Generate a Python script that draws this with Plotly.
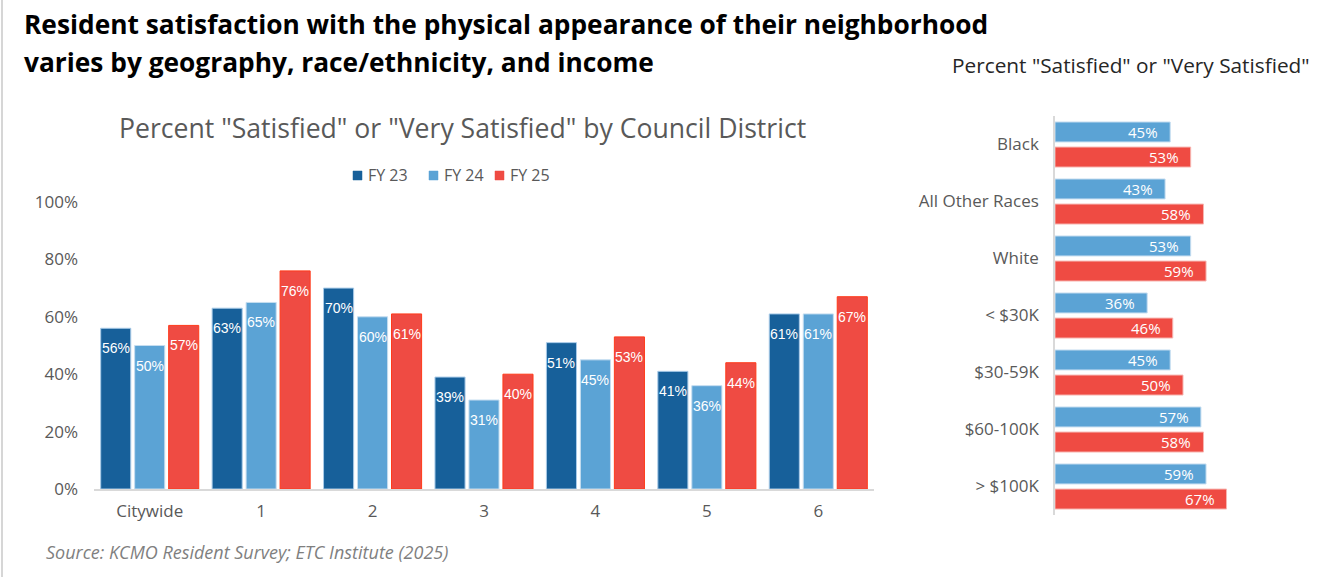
import plotly.graph_objects as go

W, H = 1340, 577

# ---- data ----
districts = ["Citywide", "1", "2", "3", "4", "5", "6"]
fy23 = [56, 63, 70, 39, 51, 41, 61]
fy24 = [50, 65, 60, 31, 45, 36, 61]
fy25 = [57, 76, 61, 40, 53, 44, 67]

groups = ["Black", "All Other Races", "White", "< $30K", "$30-59K", "$60-100K", "> $100K"]
grp_fy24 = [45, 43, 53, 36, 45, 57, 59]
grp_fy25 = [53, 58, 59, 46, 50, 58, 67]

left_ticks = [0, 20, 40, 60, 80, 100]
left_ticktext = [f"{t}%" for t in left_ticks]

C23 = "#17609A"
C24 = "#5BA3D5"
C25 = "#EF4B43"
GRAY = "#595959"
FONT = "Open Sans"
LABEL_FONT = "Liberation Sans"


def px(x):
    return x / W


def py(y):
    return 1 - y / H


fig = go.Figure()
annotations = []

# left grouped bars (explicit width/offset in category units)
BW = 0.27
left_series = [("FY 23", fy23, C23, "#A9CBE8", -0.44),
               ("FY 24", fy24, C24, "#C5DDF0", -0.135),
               ("FY 25", fy25, C25, "#FF3A1A", 0.17)]
for name, vals, col, lcol, off in left_series:
    fig.add_trace(go.Bar(
        x=districts, y=vals, name=name, width=BW, offset=off,
        marker=dict(color=col, line=dict(color=lcol, width=1)),
        xaxis="x", yaxis="y", showlegend=False,
    ))
    for i, v in enumerate(vals):
        annotations.append(dict(
            text=f"{v}%", x=i + off + BW / 2, y=v, xref="x", yref="y",
            xanchor="center", yanchor="middle", yshift=-20, showarrow=False,
            font=dict(color="white", size=14, family=LABEL_FONT)))

# right horizontal bars
HW = 0.35
right_series = [("FY 24", grp_fy24, C24, "#C5DDF0", -0.395),
                ("FY 25", grp_fy25, C25, "#F7B5B0", 0.045)]
for name, vals, col, lcol, off in right_series:
    fig.add_trace(go.Bar(
        y=groups, x=vals, orientation="h", showlegend=False, name=name,
        width=HW, offset=off,
        marker=dict(color=col, line=dict(color=lcol, width=1)),
        xaxis="x2", yaxis="y2",
    ))
    for i, v in enumerate(vals):
        annotations.append(dict(
            text=f"{v}%", x=v, y=i + off + HW / 2, xref="x2", yref="y2",
            xanchor="right", yanchor="middle", xshift=-10, showarrow=False,
            font=dict(color="white", size=15, family=FONT)))

# manual legend
legend_items = [("FY 23", C23, 353), ("FY 24", C24, 429), ("FY 25", C25, 495)]
shapes = []
for name, col, x0 in legend_items:
    shapes.append(dict(type="rect", xref="paper", yref="paper",
                       x0=px(x0), x1=px(x0 + 9), y0=py(180), y1=py(171),
                       fillcolor=col, line=dict(color=col, width=0.5)))
    annotations.append(dict(text=name, x=px(x0 + 13), y=py(175), xref="paper", yref="paper",
                            xanchor="left", yanchor="middle", showarrow=False,
                            font=dict(size=16, color=GRAY, family=FONT)))

shapes.append(dict(type="line", xref="paper", yref="paper", x0=px(2), x1=px(2), y0=0, y1=1,
                   line=dict(color="#C8C8C8", width=1.5)))

annotations += [
    dict(text="<b>Resident satisfaction with the physical appearance of their neighborhood</b>",
         x=px(22), y=py(24), xref="paper", yref="paper", xanchor="left", yanchor="middle",
         showarrow=False, font=dict(size=26.3, color="black", family=FONT)),
    dict(text="<b>varies by geography, race/ethnicity, and income</b>",
         x=px(22), y=py(62), xref="paper", yref="paper", xanchor="left", yanchor="middle",
         showarrow=False, font=dict(size=26.3, color="black", family=FONT)),
    dict(text='Percent "Satisfied" or "Very Satisfied"',
         x=px(1312), y=py(65), xref="paper", yref="paper", xanchor="right", yanchor="middle",
         showarrow=False, font=dict(size=20.8, color="#262626", family=FONT)),
    dict(text='Percent "Satisfied" or "Very Satisfied" by Council District',
         x=px(462), y=py(128), xref="paper", yref="paper", xanchor="center", yanchor="middle",
         showarrow=False, font=dict(size=26.6, color=GRAY, family=FONT)),
    dict(text="<i>Source: KCMO Resident Survey; ETC Institute (2025)</i>",
         x=px(44), y=py(552), xref="paper", yref="paper", xanchor="left", yanchor="middle",
         showarrow=False, font=dict(size=18, color="#7F7F7F", family=FONT)),
]

fig.update_layout(
    width=W, height=H,
    margin=dict(l=0, r=0, t=0, b=0, autoexpand=False),
    paper_bgcolor="white", plot_bgcolor="white",
    barmode="group",
    font=dict(family=FONT, color=GRAY, size=16),
    showlegend=False,
    xaxis=dict(domain=[px(94), px(874)], range=[-0.5, 6.5], showline=True,
               linecolor="#D9D9D9", linewidth=1.5, ticks="", showgrid=False,
               tickfont=dict(size=17, color=GRAY), anchor="y", ticklabelstandoff=6),
    yaxis=dict(domain=[py(489), py(202)], range=[0, 100], tickmode="array",
               tickvals=left_ticks, ticktext=left_ticktext, showgrid=False,
               zeroline=False, showline=False,
               tickfont=dict(size=17, color=GRAY), anchor="x", ticklabelstandoff=15),
    xaxis2=dict(domain=[px(1055), px(1311)], range=[0, 100], visible=False, anchor="y2"),
    yaxis2=dict(domain=[py(515), py(116)], range=[6.5, -0.5], showline=True,
                linecolor="#D9D9D9", linewidth=1.5, ticks="", showgrid=False,
                tickfont=dict(size=17, color=GRAY), anchor="x2", ticklabelstandoff=11),
    annotations=annotations,
    shapes=shapes,
)

fig.write_html("out.html")
